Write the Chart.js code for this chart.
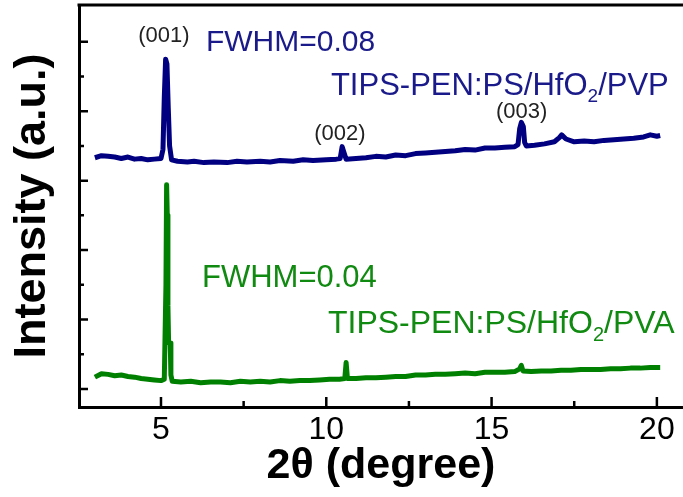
<!DOCTYPE html>
<html>
<head>
<meta charset="utf-8">
<script src="https://cdn.jsdelivr.net/npm/chart.js@4/dist/chart.umd.min.js"></script>
<style>
html, body { margin: 0; padding: 0; background: #fff; }
</style>
</head>
<body>
<canvas id="grafico-xrd" width="683" height="497"></canvas>
<script>
/* 2theta (degree) and intensity (a.u.) for each sample */
var pvpX = [3.0, 3.2, 3.4, 3.6, 3.8, 4.0, 4.2, 4.4, 4.6, 4.8, 5.0, 5.06, 5.1, 5.14, 5.18, 5.22, 5.26, 5.32,
    5.5, 5.8, 6.0, 6.3, 6.6, 7.0, 7.3, 7.6, 8.0, 8.3, 8.6, 9.0, 9.3, 9.6, 10.0, 10.3, 10.42, 10.48, 10.54, 10.6,
    10.9, 11.2, 11.5, 11.8, 12.1, 12.4, 12.7, 13.0, 13.3, 13.6, 13.9, 14.2, 14.5, 14.8, 15.1, 15.4, 15.7,
    15.8, 15.85, 15.9, 15.96, 16.0, 16.05, 16.3, 16.6, 16.9, 17.05, 17.12, 17.25,
    17.5, 17.8, 18.1, 18.4, 18.7, 19.0, 19.3, 19.6, 19.8, 20.0, 20.1];
var pvpY = [3.33, 3.36, 3.35, 3.34, 3.32, 3.34, 3.31, 3.32, 3.30, 3.31, 3.32, 3.45, 4.20, 4.75, 4.68, 4.05, 3.50, 3.30,
    3.28, 3.27, 3.28, 3.26, 3.27, 3.26, 3.28, 3.27, 3.28, 3.27, 3.29, 3.28, 3.30, 3.29, 3.30, 3.31, 3.32, 3.49, 3.40, 3.31,
    3.32, 3.33, 3.35, 3.34, 3.37, 3.36, 3.39, 3.40, 3.41, 3.42, 3.43, 3.45, 3.44, 3.47, 3.47, 3.48, 3.49,
    3.52, 3.75, 3.84, 3.78, 3.55, 3.50, 3.51, 3.53, 3.56, 3.62, 3.66, 3.60,
    3.56, 3.57, 3.56, 3.58, 3.59, 3.60, 3.61, 3.63, 3.66, 3.64, 3.65];

var pvaX = [3.0, 3.2, 3.4, 3.6, 3.8, 4.0, 4.2, 4.4, 4.6, 4.8, 5.0, 5.1, 5.15, 5.17, 5.19, 5.21, 5.23, 5.28, 5.3, 5.34,
    5.6, 5.9, 6.2, 6.5, 6.8, 7.1, 7.4, 7.7, 8.0, 8.3, 8.6, 8.9, 9.2, 9.5, 9.8, 10.1, 10.4, 10.56, 10.6, 10.64,
    10.9, 11.2, 11.5, 11.8, 12.1, 12.4, 12.7, 13.0, 13.3, 13.6, 13.9, 14.2, 14.5, 14.8, 15.1, 15.4, 15.7,
    15.85, 15.9, 15.95, 16.2, 16.5, 16.8, 17.1, 17.4, 17.7, 18.0, 18.3, 18.6, 18.9, 19.2, 19.5, 19.8, 20.1];
var pvaY = [0.17, 0.22, 0.21, 0.19, 0.20, 0.18, 0.17, 0.15, 0.14, 0.13, 0.12, 0.14, 1.50, 2.94, 2.50, 1.20, 0.68, 0.66, 0.20, 0.11,
    0.10, 0.11, 0.09, 0.10, 0.10, 0.09, 0.11, 0.10, 0.11, 0.10, 0.12, 0.11, 0.12, 0.12, 0.13, 0.14, 0.14, 0.15, 0.38, 0.15,
    0.15, 0.16, 0.16, 0.17, 0.18, 0.18, 0.20, 0.20, 0.21, 0.21, 0.22, 0.23, 0.22, 0.24, 0.24, 0.24, 0.25,
    0.29, 0.34, 0.26, 0.25, 0.26, 0.26, 0.27, 0.27, 0.28, 0.28, 0.28, 0.29, 0.29, 0.30, 0.30, 0.31, 0.31];

/* Ticks (majors get labels on x, none on y) */
var xTicks = [5, 10, 15, 20];
var xMinorTicks = [7.5, 12.5, 17.5];
var yTicks = [0, 1, 2, 3, 4, 5];
var yMinorTicks = [0.5, 1.5, 2.5, 3.5, 4.5];

/* Texts on the plot */
var peakNames = ['(001)', '(002)', '(003)'];
var peakPos = [[5.09, 5.0], [10.41, 3.59], [15.91, 3.90]];
var fwhmPvp = 'FWHM=0.08';
var fwhmPva = 'FWHM=0.04';
var samplePvp = ['TIPS-PEN:PS/HfO', '2', '/PVP'];
var samplePva = ['TIPS-PEN:PS/HfO', '2', '/PVA'];

var azul = '#000080';
var verde = '#008000';
var fuente = "'Liberation Sans', Arial, sans-serif";

function puntos(xs, ys) {
    return xs.map(function (x, i) { return { x: x, y: ys[i] }; });
}

function textoConSub(c, partes, x, y, size) {
    c.font = size + 'px ' + fuente;
    c.fillText(partes[0], x, y);
    x += c.measureText(partes[0]).width;
    c.font = Math.round(size * 0.62) + 'px ' + fuente;
    c.fillText(partes[1], x, y + size * 0.25);
    x += c.measureText(partes[1]).width;
    c.font = size + 'px ' + fuente;
    c.fillText(partes[2], x, y);
}

var extras = {
    id: 'extras',
    afterDraw: function (chart) {
        var c = chart.ctx;
        var a = chart.chartArea;
        var sx = chart.scales.x;
        var sy = chart.scales.y;
        c.save();
        // top frame line
        c.strokeStyle = '#000';
        c.lineWidth = 3;
        c.beginPath();
        c.moveTo(a.left - 1.5, a.top);
        c.lineTo(a.right, a.top);
        c.stroke();
        // inward ticks
        c.lineWidth = 2.5;
        c.beginPath();
        xTicks.forEach(function (v) {
            var p = sx.getPixelForValue(v);
            c.moveTo(p, a.bottom); c.lineTo(p, a.bottom - 10);
        });
        xMinorTicks.forEach(function (v) {
            var p = sx.getPixelForValue(v);
            c.moveTo(p, a.bottom); c.lineTo(p, a.bottom - 6);
        });
        yTicks.forEach(function (v) {
            var p = sy.getPixelForValue(v);
            c.moveTo(a.left, p); c.lineTo(a.left + 9, p);
        });
        yMinorTicks.forEach(function (v) {
            var p = sy.getPixelForValue(v);
            c.moveTo(a.left, p); c.lineTo(a.left + 5, p);
        });
        c.stroke();

        // peak indices
        c.fillStyle = '#222';
        c.textAlign = 'center';
        c.textBaseline = 'alphabetic';
        c.font = '22px ' + fuente;
        peakNames.forEach(function (t, i) {
            c.fillText(t, sx.getPixelForValue(peakPos[i][0]), sy.getPixelForValue(peakPos[i][1]));
        });

        // FWHM and sample names
        c.textAlign = 'left';
        c.fillStyle = '#1a1a8a';
        c.font = '30px ' + fuente;
        c.fillText(fwhmPvp, sx.getPixelForValue(6.36), sy.getPixelForValue(4.87));
        textoConSub(c, samplePvp, sx.getPixelForValue(10.14), sy.getPixelForValue(4.24), 31);
        c.fillStyle = '#118a11';
        c.font = '31px ' + fuente;
        c.fillText(fwhmPva, sx.getPixelForValue(6.24), sy.getPixelForValue(1.47));
        textoConSub(c, samplePva, sx.getPixelForValue(10.05), sy.getPixelForValue(0.81), 32);
        c.restore();
    }
};

var marco = document.getElementById('grafico-xrd').getContext('2d');

var grafico = new Chart(marco, {
    type: 'line',
    data: {
        datasets: [{
            label: 'TIPS-PEN:PS/HfO2/PVP',
            data: puntos(pvpX, pvpY),
            borderColor: azul,
            borderWidth: 5,
            borderJoinStyle: 'round',
            pointRadius: 0,
            tension: 0,
            fill: false
        }, {
            label: 'TIPS-PEN:PS/HfO2/PVA',
            data: puntos(pvaX, pvaY),
            borderColor: verde,
            borderWidth: 5,
            borderJoinStyle: 'round',
            pointRadius: 0,
            tension: 0,
            fill: false
        }]
    },
    options: {
        responsive: false,
        animation: false,
        layout: { padding: { top: 5, right: 0, bottom: 0, left: 0 } },
        plugins: {
            legend: { display: false },
            tooltip: { enabled: false }
        },
        scales: {
            x: {
                type: 'linear',
                min: 2.52,
                max: 20.79,
                afterBuildTicks: function (s) {
                    s.ticks = xTicks.map(function (v) { return { value: v }; });
                },
                afterFit: function (s) { s.height = 90; },
                grid: { display: false, drawTicks: false },
                border: { display: true, color: '#000', width: 3 },
                ticks: {
                    padding: 4,
                    color: '#000',
                    font: { family: fuente, size: 32 }
                },
                title: {
                    display: true,
                    text: '2θ (degree)',
                    color: '#000',
                    padding: { top: 0, bottom: 5 },
                    font: { family: fuente, size: 43, weight: 'bold' }
                }
            },
            y: {
                min: -0.26,
                max: 5.53,
                afterFit: function (s) { s.width = 79; },
                grid: { display: false, drawTicks: false },
                border: { display: true, color: '#000', width: 3 },
                ticks: { display: false },
                title: {
                    display: true,
                    text: 'Intensity (a.u.)',
                    color: '#000',
                    padding: { top: 6, bottom: 0 },
                    font: { family: fuente, size: 45, weight: 'bold' }
                }
            }
        }
    },
    plugins: [extras]
});
</script>
</body>
</html>
